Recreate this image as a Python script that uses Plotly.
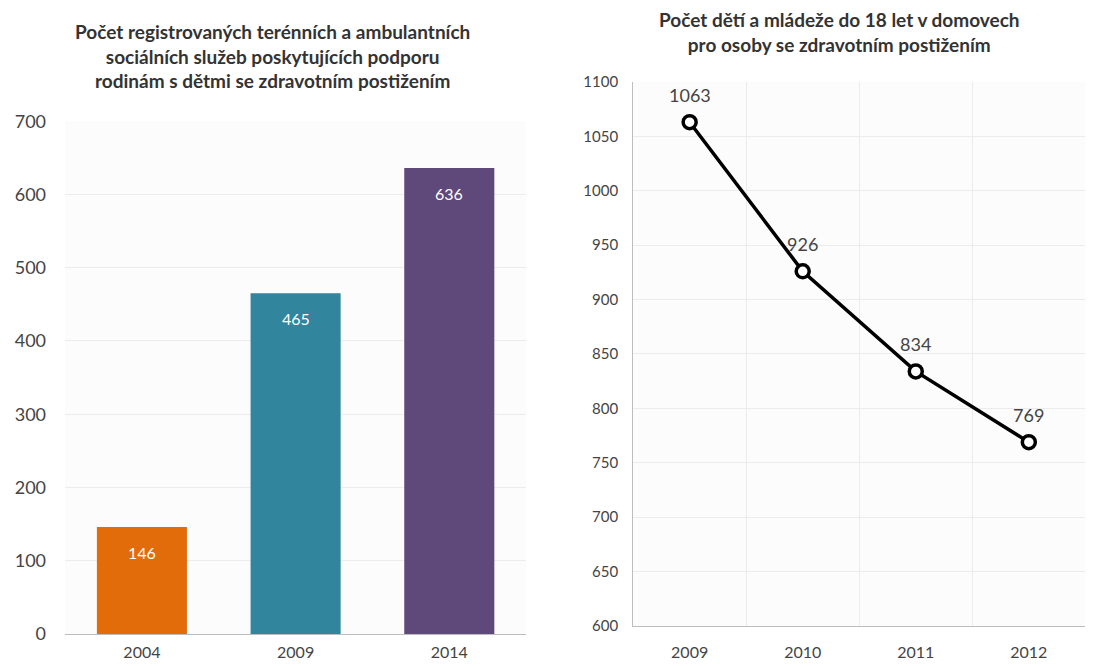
import plotly.graph_objects as go

# Left panel: registered field and outpatient social services
bar_years = ["2004", "2009", "2014"]
bar_values = [146, 465, 636]
bar_colors = ["#E36C0A", "#31859C", "#5F497A"]

# Right panel: children and youth under 18 in homes for persons with disabilities
line_years = ["2009", "2010", "2011", "2012"]
line_values = [1063, 926, 834, 769]

left_title = ("<b>Počet registrovaných terénních a ambulantních<br>"
              "sociálních služeb poskytujících podporu<br>"
              "rodinám s dětmi se zdravotním postižením</b>")
right_title = ("<b>Počet dětí a mládeže do 18 let v domovech<br>"
               "pro osoby se zdravotním postižením</b>")

FONT = "Lato, 'Open Sans', sans-serif"
GRID = "#ececec"
AXIS = "#bdbdbd"
TXT = "#444444"

fig = go.Figure()

fig.add_trace(go.Bar(
    x=bar_years, y=bar_values, marker=dict(color=bar_colors, line=dict(width=0)),
    width=0.586, xaxis="x", yaxis="y", showlegend=False, hoverinfo="x+y",
))

fig.add_trace(go.Scatter(
    x=line_years, y=line_values, mode="lines+markers",
    line=dict(color="black", width=3.5),
    marker=dict(size=13, color="white", line=dict(color="black", width=3.5)),
    xaxis="x2", yaxis="y2", showlegend=False,
))

# Value labels; x given as category index so numeric-looking names are not misread
annotations = []
for i, v in enumerate(bar_values):
    annotations.append(dict(x=i, y=v, xref="x", yref="y", text=str(v),
                            showarrow=False, yshift=-25,
                            font=dict(family=FONT, size=16, color="white")))
for i, v in enumerate(line_values):
    annotations.append(dict(x=i, y=v, xref="x2", yref="y2", text=str(v),
                            showarrow=False, yshift=27,
                            font=dict(family=FONT, size=18, color=TXT)))

annotations.append(dict(x=0.247, y=0.916, xref="paper", yref="paper", text=left_title,
                        showarrow=False, xanchor="center", yanchor="middle",
                        font=dict(family=FONT, size=19, color="#333333")))
annotations.append(dict(x=0.761, y=0.952, xref="paper", yref="paper", text=right_title,
                        showarrow=False, xanchor="center", yanchor="middle",
                        font=dict(family=FONT, size=19, color="#333333")))

fig.update_layout(
    width=1103, height=666,
    margin=dict(l=0, r=0, t=0, b=0, autoexpand=False),
    paper_bgcolor="white", plot_bgcolor="#fcfcfc",
    font=dict(family=FONT, color=TXT),
    annotations=annotations,
    xaxis=dict(domain=[0.059, 0.477], type="category", showgrid=False,
               range=[-0.5, 2.5],
               showline=True, linecolor=AXIS, linewidth=1, ticks="",
               tickfont=dict(size=16, color=TXT), ticklabelstandoff=4, anchor="y"),
    yaxis=dict(domain=[0.048, 0.818], range=[0, 700], dtick=100,
               showgrid=True, gridcolor=GRID, zeroline=False, showline=False,
               tickfont=dict(size=18, color=TXT), ticklabelstandoff=18, anchor="x"),
    xaxis2=dict(domain=[0.574, 0.984], type="category", showgrid=True, gridcolor=GRID,
                tickson="boundaries", ticks="", showline=True, linecolor=AXIS, linewidth=1,
                range=[-0.5, 3.5],
                tickfont=dict(size=16, color=TXT), ticklabelstandoff=12, anchor="y2"),
    yaxis2=dict(domain=[0.060, 0.877], range=[600, 1100], dtick=50,
                showgrid=True, gridcolor=GRID, zeroline=False, showline=True,
                linecolor=AXIS, linewidth=1,
                tickfont=dict(size=15, color=TXT), ticklabelstandoff=11, anchor="x2"),
)

fig.write_html("out.html")
